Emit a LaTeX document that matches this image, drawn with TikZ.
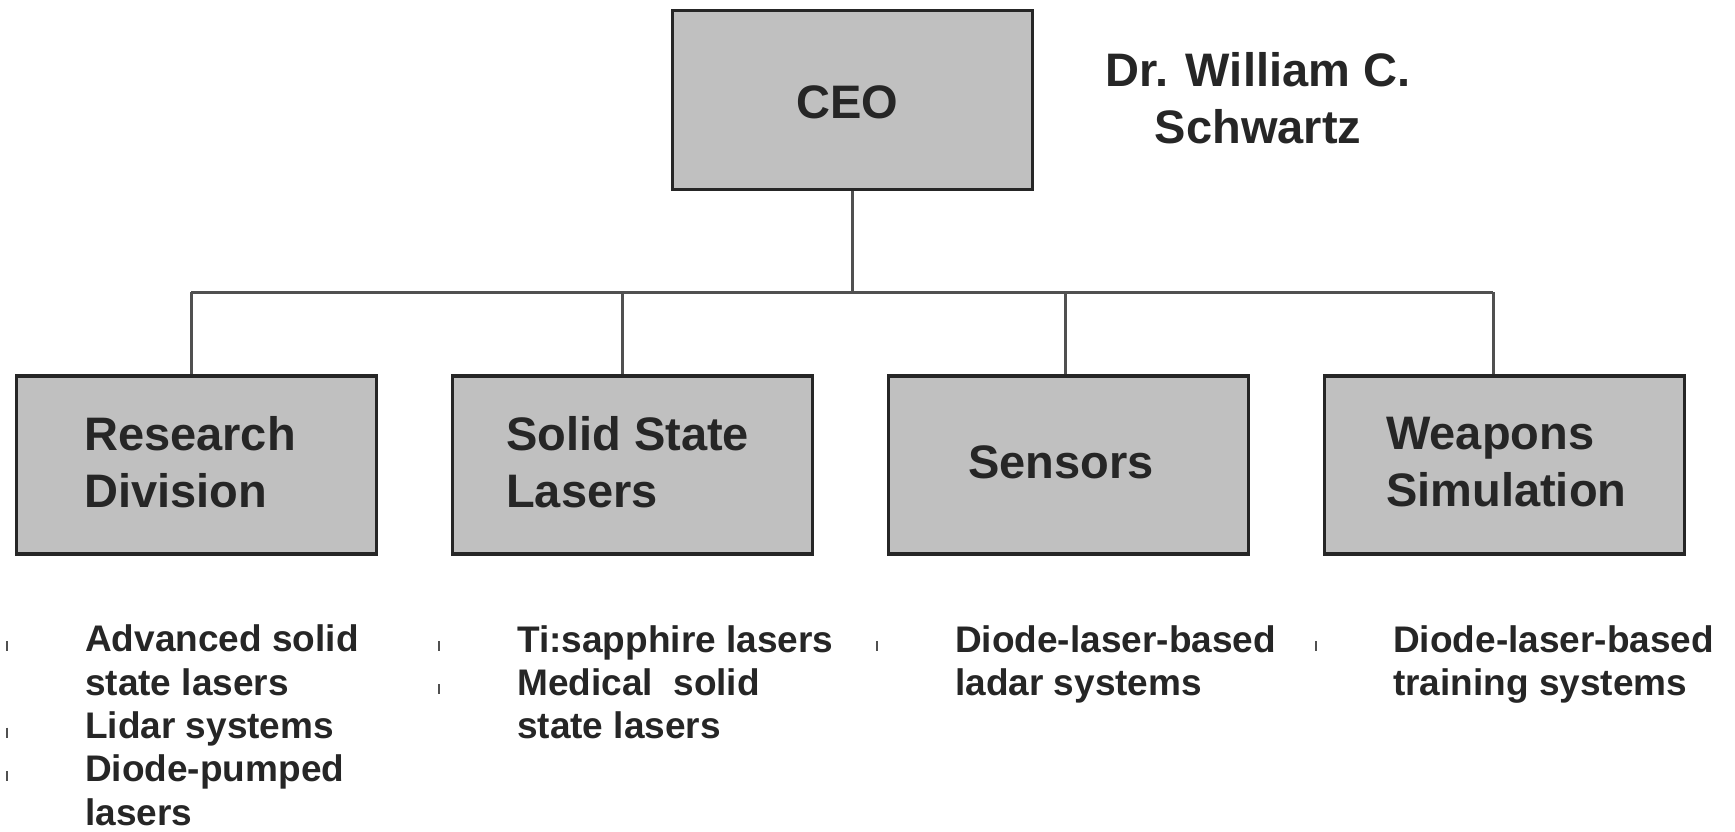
\documentclass[tikz,border=0pt]{standalone}
\usepackage{fontspec}
\setmainfont{Liberation Sans}
\definecolor{boxfill}{HTML}{C0C0C0}
\definecolor{boxline}{HTML}{262626}
\definecolor{connline}{HTML}{505050}
\definecolor{txt}{HTML}{262626}
\definecolor{tickc}{HTML}{505050}
\begin{document}
\begin{tikzpicture}[x=1pt,y=-1pt,
  box/.style={draw=boxline, line width=3.2pt, fill=boxfill, rectangle, inner sep=0pt, minimum width=360pt},
  conn/.style={draw=connline, line width=3pt},
  big/.style={font=\bfseries\fontsize{47}{57}\selectfont, text=txt, inner sep=0pt},
  small/.style={font=\bfseries\fontsize{37}{43.3}\selectfont, text=txt, inner sep=0pt, align=left, anchor=base west},
  tickmark/.style={draw=tickc, line width=1.6pt}]
\useasboundingbox (0,0) rectangle (1735,831);
% boxes
\node[box, minimum height=179pt] (ceo) at (852.5,100) {};
\node[box, minimum height=178pt] (rd) at (196.5,465) {};
\node[box, minimum height=178pt] (ssl) at (632.5,465) {};
\node[box, minimum height=178pt] (sen) at (1068.5,465) {};
\node[box, minimum height=178pt] (ws) at (1504.5,465) {};
% connectors
\coordinate (b1) at (191,292);
\coordinate (b2) at (622,292);
\coordinate (b3) at (1065,292);
\coordinate (b4) at (1493,292);
\draw[conn] (b1) -- (b4);
\draw[conn] (ceo.south) -- (ceo.south |- b1);
\draw[conn] (b1) -- (b1 |- rd.north);
\draw[conn] (b2) -- (b2 |- ssl.north);
\draw[conn] (b3) -- (b3 |- sen.north);
\draw[conn] (b4) -- (b4 |- ws.north);
% box texts (base anchor = last line's baseline)
\node[big, anchor=base] (tceo) at (847,118) {CEO};
\node[big, anchor=base, align=center] (tname) at (1258,143) {Dr. William C.\\Schwartz};
\node[big, anchor=base west, align=left] (trd) at (84,507) {Research\\Division};
\node[big, anchor=base west, align=left] (tssl) at (506,507) {Solid State\\Lasers};
\node[big, anchor=base] (tsen) at (1061,478) {Sensors};
\node[big, anchor=base west, align=left] (tws) at (1386,506) {Weapons\\Simulation};
% lists
\node[small] (l1) at (85,825) {Advanced solid\\state lasers\\Lidar systems\\Diode-pumped\\lasers};
\node[small] (l2) at (517,738.6) {Ti:sapphire lasers\\Medical~ solid\\state lasers};
\node[small] (l3) at (955,695.3) {Diode-laser-based\\ladar systems};
\node[small] (l4) at (1393,695.3) {Diode-laser-based\\training systems};
% bullet ticks
\foreach \x/\y in {7/652, 7/738.6, 7/782, 439/652, 439/695.3, 877/652, 1316/652}{
  \draw[tickmark] (\x,\y-11) -- (\x,\y-1);
}
\end{tikzpicture}
\end{document}
